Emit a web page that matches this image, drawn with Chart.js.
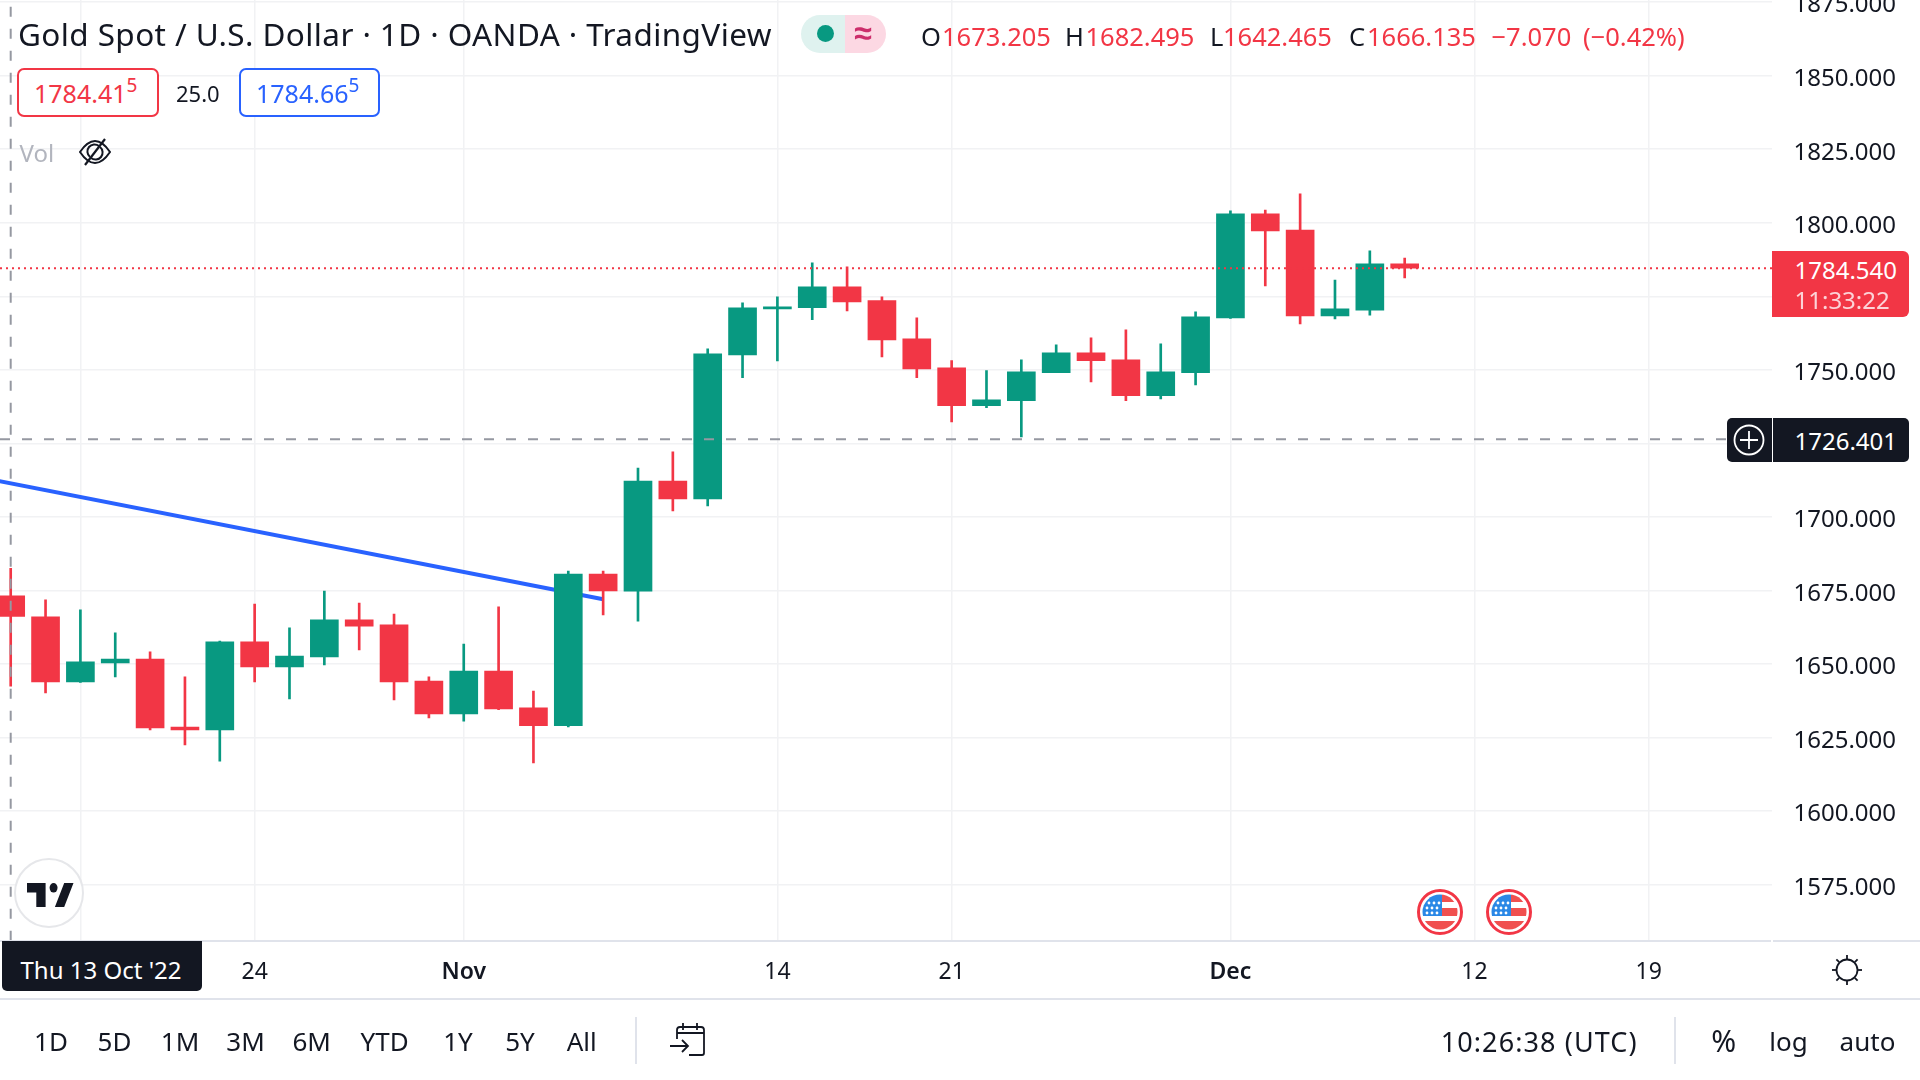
<!DOCTYPE html>
<html><head><meta charset="utf-8">
<script src="https://cdn.jsdelivr.net/npm/chart.js@4"></script>
<style>
html,body{margin:0;padding:0;background:#fff;width:1920px;height:1080px;overflow:hidden}
#wrap{position:relative;width:1920px;height:1080px;font-family:"Noto Sans",sans-serif;color:#131722}
canvas{position:absolute;left:0;top:0}
.t{position:absolute;white-space:nowrap;line-height:1;transform:translateY(-50%)}
.c{transform:translate(-50%,-50%)}
.box{position:absolute;box-sizing:border-box}
svg{position:absolute;overflow:visible}
sup{font-size:.76em;line-height:0;position:relative;top:-.08em;vertical-align:super}
</style></head><body><div id="wrap"><canvas id="c" width="1920" height="1080"></canvas><div id="ui"></div></div>
<script>
const dates=["Oct 13","Oct 14","Oct 17","Oct 18","Oct 19","Oct 20","Oct 21","Oct 24","Oct 25","Oct 26","Oct 27","Oct 28","Oct 31","Nov 1","Nov 2","Nov 3","Nov 4","Nov 7","Nov 8","Nov 9","Nov 10","Nov 11","Nov 14","Nov 15","Nov 16","Nov 17","Nov 18","Nov 21","Nov 22","Nov 23","Nov 24","Nov 25","Nov 28","Nov 29","Nov 30","Dec 1","Dec 2","Dec 5","Dec 6","Dec 7","Dec 8"];
const opens=[1673.205,1666.0,1643.9,1650.4,1651.7,1628.6,1627.6,1657.5,1649,1652.4,1665,1663.3,1644.2,1633,1647.6,1635.1,1629,1680.6,1674.8,1712.2,1706.1,1755.1,1770.7,1771.1,1778.2,1773.5,1760.5,1750.7,1737.8,1739.5,1749,1755.8,1753.4,1741.2,1749,1767.6,1803,1797.5,1768.3,1770.3,1786];
const highs=[1682.495,1671.8,1668.4,1660.6,1654.1,1645.6,1657.8,1670.4,1662.3,1674.8,1670.75,1667,1645.6,1656.8,1669.4,1640.8,1681.6,1681.6,1716.6,1722.1,1757.1,1772.8,1774.8,1786.4,1785,1774.8,1767.7,1753.1,1749.7,1753.4,1758.5,1760.9,1763.6,1758.8,1769.7,1804,1804.3,1809.8,1780.5,1790.4,1788];
const lows=[1642.465,1640.2,1643.7,1645.6,1627.6,1622.5,1617,1643.9,1638.1,1649.7,1654.8,1637.8,1631.7,1630.6,1634.5,1616.4,1628.6,1666.7,1664.6,1702,1703.7,1747.3,1753,1767,1770,1754.4,1747.3,1732.3,1737.1,1727.2,1749,1745.9,1739.5,1740.1,1744.9,1767.5,1778.5,1765.6,1767.3,1768.6,1781.2];
const closes=[1666.135,1643.9,1650.7,1651.7,1628.3,1627.6,1657.5,1649,1652.7,1665,1662.9,1643.9,1633,1647.6,1634.7,1629,1680.6,1674.8,1712.2,1706.1,1755.4,1771.1,1771.4,1778.2,1773.1,1760.2,1750.3,1737.8,1739.8,1749.3,1755.8,1753.1,1741.2,1749.3,1768,1803,1797.2,1768.3,1770.7,1786,1784.54];
const priceTicks=[1575,1600,1625,1650,1675,1700,1725,1750,1775,1800,1825,1850,1875];
const timeTickIdx=[2,7,13,22,27,35,42,47];
const timeTickLabels=["","24","Nov","14","21","Dec","12","19"];
const boldTimeLabels=["Nov","Dec"];
const trendX=[-1,17];
const trendY=[1713.7,1672];
const lastPrice=1784.54;
const crossPrice=1726.401;
const crossIdx=0;

const UP="#089981",DOWN="#f23645",GRID="#f1f2f4",INK="#131722";
const xMin=-0.307,xMax=50.54,yMin=1555.95,yMax=1875.7;
const FONT='"Noto Sans",sans-serif';
const colors=closes.map((c,i)=>c>=opens[i]?UP:DOWN);

const chart=new Chart(document.getElementById("c"),{
 type:"bar",
 data:{datasets:[
  {type:"line",label:"crosshair h",order:0,data:[{x:xMin,y:crossPrice},{x:xMax,y:crossPrice}],borderColor:"#9598a1",borderWidth:2,borderDash:[10,12],pointRadius:0},
  {type:"line",label:"crosshair v",order:0,data:[{x:crossIdx,y:yMin},{x:crossIdx,y:yMax}],borderColor:"#9598a1",borderWidth:2,borderDash:[10,12],pointRadius:0},
  {type:"line",label:"last",order:1,data:[{x:xMin,y:lastPrice},{x:xMax,y:lastPrice}],borderColor:DOWN,borderWidth:2,borderDash:[2,4],pointRadius:0},
  {label:"body",order:2,grouped:false,barThickness:28,data:dates.map((d,i)=>({x:i,y:[opens[i],closes[i]]})),backgroundColor:colors},
  {label:"wick",order:3,grouped:false,barThickness:2,data:dates.map((d,i)=>({x:i,y:[lows[i],highs[i]]})),backgroundColor:colors},
  {type:"line",label:"trend",order:4,data:trendX.map((x,i)=>({x,y:trendY[i]})),borderColor:"#2962ff",borderWidth:4,pointRadius:0,tension:0}
 ]},
 options:{
  responsive:false,animation:false,devicePixelRatio:1,
  layout:{padding:{left:0,right:0,top:0,bottom:81.3}},
  plugins:{legend:{display:false},tooltip:{enabled:false}},
  scales:{
   x:{type:"linear",min:xMin,max:xMax,offset:false,
    grid:{color:GRID,lineWidth:1.5,drawTicks:false,offset:false},border:{display:false},
    afterBuildTicks(s){s.ticks=timeTickIdx.map(v=>({value:v}))},
    afterFit(s){s.height=58;s.paddingLeft=0;s.paddingRight=0;s.paddingTop=0;s.paddingBottom=0},
    ticks:{autoSkip:false,maxRotation:0,padding:17.5,color:INK,
     callback(v){const k=timeTickIdx.indexOf(v);return k<0?"":timeTickLabels[k]},
     font(ctx){const l=ctx.tick&&ctx.tick.label;return {family:FONT,size:23,weight:boldTimeLabels.includes(l)?"600":"400"}}}},
   y:{type:"linear",position:"right",min:yMin,max:yMax,
    grid:{color:GRID,lineWidth:1.5,drawTicks:false},border:{display:false},
    afterBuildTicks(s){s.ticks=priceTicks.map(v=>({value:v}))},
    afterFit(s){s.width=148;s.paddingLeft=0;s.paddingRight=0;s.paddingTop=0;s.paddingBottom=0},
    ticks:{autoSkip:false,padding:21.5,labelOffset:3.5,color:INK,font:{family:FONT,size:24},callback(v){return v.toFixed(3)}}}
  }
 }
});

const ui=document.getElementById("ui");
function T(txt,x,y,size,color,opt){opt=opt||{};const e=document.createElement("div");e.className="t"+(opt.center?" c":"");e.innerHTML=txt;
 e.style.cssText+=`left:${x}px;top:${y}px;font-size:${size}px;color:${color};`+(opt.css||"");ui.appendChild(e);return e}
function B(x,y,w,h,css){const e=document.createElement("div");e.className="box";e.style.cssText=`left:${x}px;top:${y}px;width:${w}px;height:${h}px;`+css;ui.appendChild(e);return e}
function S(x,y,w,h,vb,inner){const d=document.createElement("div");d.innerHTML=`<svg style="left:${x}px;top:${y}px" width="${w}" height="${h}" viewBox="${vb}" preserveAspectRatio="none" fill="none">${inner}</svg>`;ui.appendChild(d)}

const py=v=>chart.scales.y.getPixelForValue(v);

// axis frame lines
B(0,940,1771,2,"background:#e0e3eb");B(1773,940,147,2,"background:#e0e3eb");B(0,998,1920,2,"background:#e0e3eb");

// header
T("Gold Spot / U.S. Dollar · 1D · OANDA · TradingView",18,34,31.5,INK,{css:"letter-spacing:.4px"});
B(801,15,43.5,38,"background:#dff2ef;border-radius:19px 0 0 19px");
B(844.5,15,41.5,38,"background:#fcd8e3;border-radius:0 19px 19px 0");
B(817,24.8,17,17,"background:#089981;border-radius:50%");
T("≈",863,32,32,"#cc2e6b",{center:1,css:"font-weight:700"});
const hdrSize=25.5;
[["O",921,INK],["1673.205",942,DOWN],["H",1065,INK],["1682.495",1085.5,DOWN],["L",1210,INK],["1642.465",1223,DOWN],["C",1349,INK],["1666.135",1367,DOWN],["−7.070",1491.5,DOWN],["(−0.42%)",1583,DOWN]]
 .forEach(a=>T(a[0],a[1],37,hdrSize,a[2]));

// bid / ask
B(16.5,68.3,142,49,"border:2px solid #f23645;border-radius:7px;background:#fff");
T("1784.41<sup>5</sup>",34,93,25,DOWN);
T("25.0",176,93,22,INK);
B(238.8,68.3,141.5,49,"border:2px solid #2962ff;border-radius:7px;background:#fff");
T("1784.66<sup>5</sup>",256,93,25,"#2962ff");

// Vol
T("Vol",19.5,153,24,"#b2b5be");
S(78,139,34,26,"0 0 34 26",'<path d="M2 13C8 4 13 2 17 2s9 2 15 11c-6 9-11 11-15 11S8 22 2 13Z" stroke="#131722" stroke-width="2"/><path d="M22 8a7 7 0 0 1-9 11M12 18a7 7 0 0 1 9-11" stroke="#131722" stroke-width="2"/><path d="M27 0L7 26" stroke="#131722" stroke-width="2.2"/>');

// TV logo
B(14,858,70,70,"border:2.5px solid #e6e7ea;border-radius:50%;background:#fff");
S(27,882.7,46.5,24,"0 6 35 15",'<path d="M14 6H0v6h7v9h7V6ZM28 21h-7l7-15h7l-7 15Z" fill="#131722"/><circle cx="20" cy="9" r="3" fill="#131722"/>');

// event flags
function flag(cx){const cy=912.3;
 let stars="";[[-11,-9],[-6,-9],[-1,-9],[-13,-4],[-8,-4],[-3,-4],[-13,1],[-8,1],[-3,1]].forEach(p=>stars+=`<circle cx="${p[0]}" cy="${p[1]}" r="1.4" fill="#fff"/>`);
 const id="k"+Math.round(cx);
 S(cx-23,cy-23,46,46,"-23 -23 46 46",`<defs><clipPath id="${id}"><circle r="17.5"/></clipPath></defs><circle r="21.5" fill="#fff" stroke="#f23645" stroke-width="3"/><g clip-path="url(#${id})"><rect x="-18" y="-18" width="36" height="36" fill="#fff"/><rect x="-18" y="-18" width="20" height="22" fill="#2b88e6"/><rect x="2" y="-18" width="16" height="8" fill="#f0504f"/><rect x="2" y="-4" width="16" height="8" fill="#f0504f"/><rect x="-18" y="9" width="36" height="10" fill="#f0504f"/>${stars}</g>`)}
flag(1439.5);flag(1509.3);

// price labels
const ly=py(lastPrice);
B(1772,ly-17.2,137,65.7,"background:#f23645;border-radius:0 6px 6px 0;");
T("1784.540",1794.5,ly+2,24,"#fff");
T("11:33:22",1794.5,ly+31.5,24,"#fcd3d7");
const cy=py(crossPrice);
B(1727,cy-21,45,44,"background:#131722;border-radius:5px 0 0 5px");
B(1773,cy-21,136,44,"background:#131722;border-radius:0 5px 5px 0");
T("1726.401",1794.5,cy+1.5,24,"#fff");
S(1733,cy-15.5,32,32,"0 0 32 32",'<circle cx="16" cy="16" r="14.5" stroke="#fff" stroke-width="1.8"/><path d="M16 7v18M7 16h18" stroke="#fff" stroke-width="1.8"/>');

// date label
B(2,941,200,50,"background:#131722;border-radius:0 0 5px 5px");
T("Thu 13 Oct '22",101,970,24,"#fff",{center:1});

// gear
let rays="";for(let a=0;a<8;a++){const r=a*Math.PI/4;rays+=`<path d="M${(11*Math.sin(r)).toFixed(2)} ${(-11*Math.cos(r)).toFixed(2)}L${(15*Math.sin(r)).toFixed(2)} ${(-15*Math.cos(r)).toFixed(2)}" stroke="#131722" stroke-width="1.8"/>`}
S(1830.7,954,32,32,"-16 -16 32 32",`<circle r="10.5" stroke="#131722" stroke-width="1.8"/>${rays}`);

// bottom toolbar
[["1D",51],["5D",114.5],["1M",180],["3M",245.6],["6M",311.7],["YTD",384.6],["1Y",458],["5Y",520],["All",581.7]]
 .forEach(a=>T(a[0],a[1],1041,26,INK,{center:1}));
B(635,1017,1.5,47,"background:#e0e3eb");
S(670,1023,35,32,"0 0 35 32",'<path d="M7 16V7a3 3 0 0 1 3-3h21a3 3 0 0 1 3 3v23a2 2 0 0 1-2 2H19M7 10h27M13 0v7M27 0v7M0 23h18M12 17l6 6-6 6" stroke="#131722" stroke-width="1.8"/>');
T("10:26:38 (UTC)",1440.7,1041,27,INK,{css:"letter-spacing:1.1px"});
B(1674,1017,1.5,47,"background:#e0e3eb");
T("%",1723.6,1041,30,INK,{center:1});
T("log",1788.5,1041,26,INK,{center:1});
T("auto",1867.5,1041,26,INK,{center:1});
</script></body></html>
